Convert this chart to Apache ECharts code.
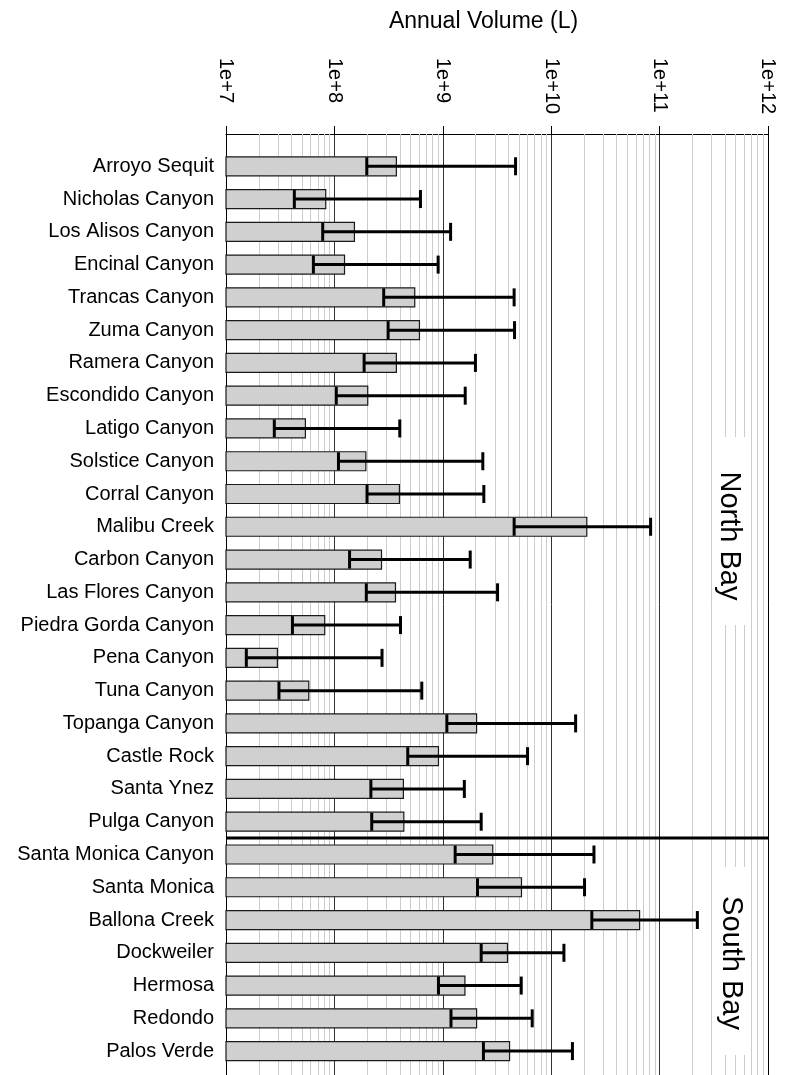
<!DOCTYPE html>
<html>
<head>
<meta charset="utf-8">
<script src="https://cdn.jsdelivr.net/npm/echarts@6/dist/echarts.min.js"></script>
<style>
html,body{margin:0;padding:0;background:#fff;}
#chart{width:789px;height:1075px;}
</style>
</head>
<body>
<div id="chart"></div>
<script>
const categories = ['Arroyo Sequit','Nicholas Canyon','Los Alisos Canyon','Encinal Canyon','Trancas Canyon','Zuma Canyon','Ramera Canyon','Escondido Canyon','Latigo Canyon','Solstice Canyon','Corral Canyon','Malibu Creek','Carbon Canyon','Las Flores Canyon','Piedra Gorda Canyon','Pena Canyon','Tuna Canyon','Topanga Canyon','Castle Rock','Santa Ynez','Pulga Canyon','Santa Monica Canyon','Santa Monica','Ballona Creek','Dockweiler','Hermosa','Redondo','Palos Verde'];
const volume = [3.73e8, 8.32e7, 1.53e8, 1.24e8, 5.51e8, 6.09e8, 3.73e8, 2.03e8, 5.40e7, 1.95e8, 3.98e8, 2.13e10, 2.72e8, 3.66e8, 8.14e7, 2.98e7, 5.80e7, 2.05e9, 9.12e8, 4.33e8, 4.37e8, 2.89e9, 5.32e9, 6.54e10, 3.95e9, 1.60e9, 2.05e9, 4.13e9];
const lower = [1.99e8, 4.27e7, 7.80e7, 6.40e7, 2.85e8, 3.13e8, 1.88e8, 1.04e8, 2.79e7, 1.09e8, 2.00e8, 4.55e9, 1.38e8, 1.97e8, 4.10e7, 1.54e7, 3.08e7, 1.09e9, 4.75e8, 2.17e8, 2.21e8, 1.30e9, 2.09e9, 2.37e10, 2.26e9, 9.12e8, 1.19e9, 2.37e9];
const upper = [4.69e9, 6.22e8, 1.18e9, 9.06e8, 4.55e9, 4.59e9, 2.00e9, 1.61e9, 4.01e8, 2.34e9, 2.39e9, 8.26e10, 1.79e9, 3.20e9, 4.07e8, 2.75e8, 6.40e8, 1.68e10, 6.05e9, 1.58e9, 2.26e9, 2.48e10, 2.03e10, 2.23e11, 1.31e10, 5.29e9, 6.68e9, 1.57e10];
const regionNames = ['North Bay', 'South Bay'];
const regionSizes = [21, 7];
const tickLabels = ['1e+7','1e+8','1e+9','1e+10','1e+11','1e+12'];
const axisTitle = 'Annual Volume (L)';

const XMIN = 1e7, XMAX = 1e12;
const FONT = '"Liberation Sans", Arial, Helvetica, sans-serif';

// minor gridline positions (2..9 within each decade)
const minorLines = [];
for (let d = 7; d < 12; d++) {
  for (let m = 2; m <= 9; m++) minorLines.push(m * Math.pow(10, d));
}

const chart = echarts.init(document.getElementById('chart'), null, {renderer: 'canvas'});

const barData = volume.map((v, i) => [v, i]);
const errData = lower.map((lo, i) => [lo, upper[i], i]);

const option = {
  backgroundColor: '#fff',
  animation: false,
  grid: [
    {left: 226, right: 21, top: 134, bottom: 0},
    {left: 226, right: 21, top: 149.9, bottom: 7.5}
  ],
  xAxis: [
    {
      gridIndex: 0, type: 'log', logBase: 10, min: XMIN, max: XMAX, position: 'top',
      axisLine: {show: true, onZero: false, lineStyle: {color: '#000', width: 1}},
      axisTick: {show: true, length: 8, lineStyle: {color: '#000', width: 1}},
      axisLabel: {
        show: true, rotate: 90, align: 'left', verticalAlign: 'middle', margin: 76,
        fontSize: 20, fontFamily: FONT, color: '#000',
        formatter: (v, idx) => tickLabels[idx]
      },
      splitLine: {show: true, lineStyle: {color: '#333', width: 1}}
    },
    {
      gridIndex: 1, type: 'log', logBase: 10, min: XMIN, max: XMAX, show: false
    }
  ],
  yAxis: [
    {
      gridIndex: 0, type: 'value', min: 0, max: 1, position: 'left',
      axisLine: {show: true, onZero: false, lineStyle: {color: '#000', width: 1}},
      axisTick: {show: false}, axisLabel: {show: false}, splitLine: {show: false}
    },
    {
      gridIndex: 1, type: 'category', data: categories, inverse: true,
      axisLine: {show: false}, axisTick: {show: false}, splitLine: {show: false},
      axisLabel: {show: true, fontSize: 20, fontFamily: FONT, color: '#000', margin: 12}
    },
    {
      gridIndex: 0, type: 'value', min: 0, max: 1, position: 'right',
      axisLine: {show: true, onZero: false, lineStyle: {color: '#000', width: 1}},
      axisTick: {show: false}, axisLabel: {show: false}, splitLine: {show: false}
    }
  ],
  series: [
    {
      type: 'custom', name: 'minor', xAxisIndex: 0, yAxisIndex: 0, z: 1, silent: true,
      data: minorLines.map(v => [v]),
      renderItem: (params, api) => {
        const v = api.value(0);
        const p0 = api.coord([v, 0]);
        const p1 = api.coord([v, 1]);
        return {type: 'line', shape: {x1: Math.round(p0[0]) + 0.5, y1: p0[1], x2: Math.round(p1[0]) + 0.5, y2: p1[1]},
          style: {stroke: '#cccccc', lineWidth: 1}};
      }
    },
    {
      type: 'custom', name: 'Annual Volume', xAxisIndex: 1, yAxisIndex: 1, z: 3,
      data: barData,
      encode: {x: 0, y: 1},
      renderItem: (params, api) => {
        const idx = api.value(1);
        const s = api.coord([XMIN, idx]);
        const e = api.coord([api.value(0), idx]);
        const h = 19;
        return {type: 'rect', shape: {x: s[0], y: s[1] - h / 2, width: e[0] - s[0], height: h},
          style: {fill: '#d0d0d0', stroke: '#1a1a1a', lineWidth: 1.2}};
      }
    },
    {
      type: 'custom', name: 'Range', xAxisIndex: 1, yAxisIndex: 1, z: 4,
      data: errData,
      encode: {x: [0, 1], y: 2},
      renderItem: (params, api) => {
        const idx = api.value(2);
        const a = api.coord([api.value(0), idx]);
        const b = api.coord([api.value(1), idx]);
        const ch = 9;
        return {type: 'group', children: [
          {type: 'line', shape: {x1: a[0], y1: a[1], x2: b[0], y2: b[1]}, style: {stroke: '#000', lineWidth: 3}},
          {type: 'line', shape: {x1: a[0], y1: a[1] - ch, x2: a[0], y2: a[1] + ch}, style: {stroke: '#000', lineWidth: 3}},
          {type: 'line', shape: {x1: b[0], y1: b[1] - ch, x2: b[0], y2: b[1] + ch}, style: {stroke: '#000', lineWidth: 3}}
        ]};
      }
    },
    {
      type: 'custom', name: 'separator', xAxisIndex: 1, yAxisIndex: 1, z: 5, silent: true,
      data: [[regionSizes[0] - 1]],
      renderItem: (params, api) => {
        const k = api.value(0);
        const p = api.coord([XMIN, k]);
        const q = api.coord([XMAX, k + 1]);
        const y = (p[1] + q[1]) / 2;
        return {type: 'line', shape: {x1: p[0], y1: y, x2: q[0], y2: y}, style: {stroke: '#000', lineWidth: 3}};
      }
    }
  ],
  graphic: [
    {type: 'text', x: 483.5, y: 22, z: 10,
      style: {text: axisTitle, align: 'center', verticalAlign: 'middle', textAlign: 'center', textVerticalAlign: 'middle',
        fontSize: 23, fontFamily: FONT, fill: '#000'}},
    {type: 'rect', shape: {x: 716, y: 437, width: 34, height: 188}, style: {fill: '#fff'}, z: 20},
    {type: 'text', x: 729, y: 536, rotation: -Math.PI / 2, z: 21,
      style: {text: regionNames[0], align: 'center', verticalAlign: 'middle', textAlign: 'center', textVerticalAlign: 'middle',
        fontSize: 29, fontFamily: FONT, fill: '#000'}},
    {type: 'rect', shape: {x: 716, y: 867, width: 35, height: 188}, style: {fill: '#fff'}, z: 20},
    {type: 'text', x: 731, y: 963, rotation: -Math.PI / 2, z: 21,
      style: {text: regionNames[1], align: 'center', verticalAlign: 'middle', textAlign: 'center', textVerticalAlign: 'middle',
        fontSize: 29, fontFamily: FONT, fill: '#000'}}
  ]
};
chart.setOption(option);
</script>
</body>
</html>
